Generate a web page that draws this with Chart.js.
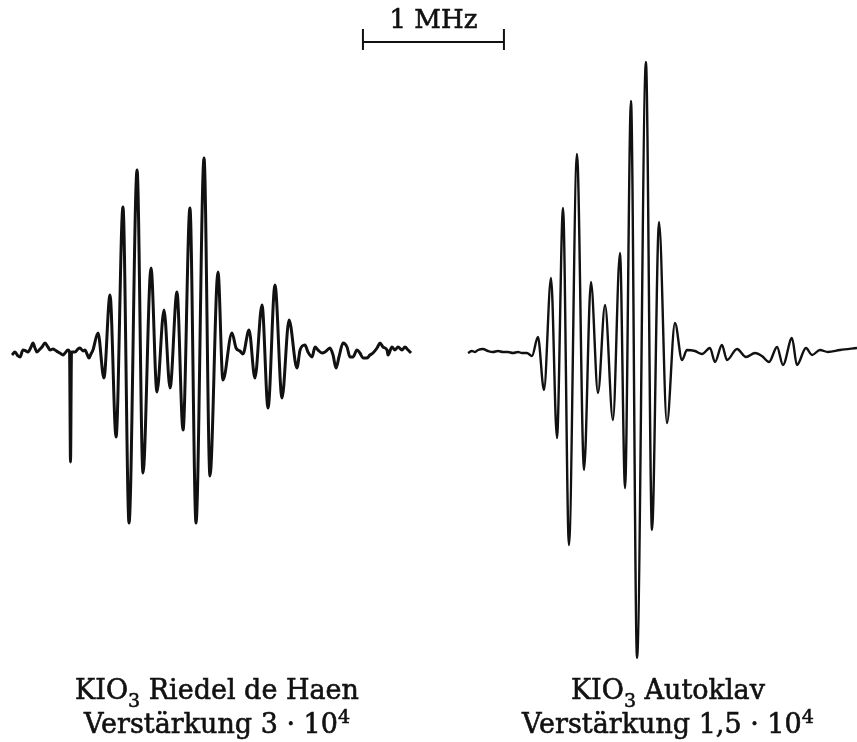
<!DOCTYPE html>
<html>
<head>
<meta charset="utf-8">
<script src="https://cdn.jsdelivr.net/npm/chart.js@4/dist/chart.umd.min.js"></script>
<style>
  html, body { margin: 0; padding: 0; background: #ffffff; }
  #wrap { width: 857px; height: 742px; position: relative; }
</style>
</head>
<body>
<div id="wrap"><canvas id="c" width="857" height="742"></canvas></div>
<script>
// Frequency (MHz, arbitrary origin) and signal amplitude (arbitrary units)
const leftFreq = [0.000,0.021,0.043,0.057,0.078,0.099,0.113,0.135,0.149,0.163,0.177,0.199,0.213,0.234,0.255,0.270,0.291,0.305,0.326,0.340,0.362,0.376,0.397,0.408,0.415,0.422,0.447,0.468,0.482,0.504,0.518,0.532,0.546,0.560,0.574,0.610,0.652,0.695,0.738,0.787,0.830,0.887,0.929,0.986,1.028,1.078,1.121,1.170,1.213,1.262,1.305,1.362,1.404,1.461,1.496,1.560,1.589,1.617,1.638,1.681,1.723,1.773,1.816,1.865,1.915,1.965,2.021,2.043,2.078,2.099,2.128,2.149,2.170,2.199,2.220,2.255,2.277,2.298,2.319,2.348,2.376,2.397,2.418,2.447,2.468,2.489,2.518,2.539,2.560,2.589,2.610,2.631,2.660,2.667,2.695,2.716,2.738,2.766,2.787,2.809,2.830];
const leftAmp  = [-0.3,0.0,-0.4,-0.5,0.2,0.1,0.0,0.5,0.9,0.4,0.0,0.3,0.5,0.9,0.5,0.2,0.3,0.2,0.0,-0.1,-0.3,-0.1,0.2,0.0,-11.0,0.0,0.0,0.3,0.4,0.1,0.2,-0.2,-0.6,-0.2,0.2,1.9,-2.6,5.7,-8.5,14.5,-17.1,18.2,-12.1,8.4,-4.0,4.2,-3.6,6.0,-7.8,14.4,-17.1,19.4,-12.4,8.0,-2.8,1.9,0.4,0.1,-0.2,2.2,-2.6,4.7,-5.6,6.7,-4.6,3.2,-1.6,0.2,0.7,0.0,-0.5,0.5,0.2,-0.1,0.0,0.4,-0.3,-1.6,-0.5,0.9,0.5,-0.5,-0.5,0.2,-0.1,-0.6,-0.6,-0.3,-0.1,0.4,0.9,0.5,0.2,-0.3,0.5,0.2,0.5,0.2,0.5,0.2,-0.1];

const rightFreq = [3.234,3.262,3.284,3.305,3.340,3.376,3.411,3.447,3.482,3.518,3.553,3.589,3.617,3.652,3.688,3.730,3.773,3.823,3.865,3.908,3.950,4.007,4.057,4.106,4.156,4.206,4.262,4.312,4.348,4.390,4.433,4.496,4.539,4.589,4.645,4.702,4.752,4.787,4.844,4.894,4.950,4.986,5.035,5.071,5.142,5.206,5.270,5.319,5.369,5.426,5.468,5.532,5.567,5.631,5.674,5.730,5.787,5.872,5.993];
const rightAmp  = [-0.1,0.1,0.0,0.2,0.3,0.1,0.0,0.1,0.0,0.0,-0.1,0.0,-0.1,-0.1,-0.4,1.5,-3.8,7.4,-8.6,14.4,-19.3,19.8,-11.8,7.0,-4.1,4.7,-6.8,9.9,-13.6,25.1,-30.6,29.0,-17.8,13.0,-7.1,2.9,-0.8,0.2,0.1,-0.2,0.4,-1.0,0.7,-0.8,0.3,-0.5,-0.1,-0.4,-1.0,0.5,-1.3,1.4,-1.3,0.4,-0.3,0.2,0.0,0.2,0.4];

const seriesNames = ["KIO3 Riedel de Haen", "KIO3 Autoklav"];
const scaleBarMHz = 1;
const scaleBarLabel = "1 MHz";
const gainLabels = ["Verstärkung 3 · 10", "Verstärkung 1,5 · 10"];
const gainExponent = "4";

const toPts = (xs, ys) => xs.map((x, i) => ({ x: x, y: ys[i] }));

// Rich text: segments {t, mode: 'n'|'sub'|'sup'}
function drawRich(ctx, segs, cx, baseY, size, family) {
  const fontFor = m => (m === 'n' ? size : Math.round(size * 0.7)) + 'px ' + family;
  let total = 0;
  segs.forEach(s => { ctx.font = fontFor(s.mode); s.w = ctx.measureText(s.t).width; total += s.w; });
  let x = cx - total / 2;
  ctx.textAlign = 'left';
  ctx.textBaseline = 'alphabetic';
  ctx.lineWidth = 0.6;
  segs.forEach(s => {
    ctx.font = fontFor(s.mode);
    let dy = 0;
    if (s.mode === 'sub') dy = size * 0.28;
    if (s.mode === 'sup') dy = -size * 0.36;
    ctx.fillText(s.t, x, baseY + dy);
    ctx.strokeText(s.t, x, baseY + dy);
    x += s.w;
  });
}

const annotations = {
  id: 'annotations',
  afterDraw(chart) {
    const ctx = chart.ctx;
    const xs = chart.scales.x, ys = chart.scales.y;
    const fam = '"DejaVu Serif", "Liberation Serif", serif';
    ctx.save();
    ctx.fillStyle = '#111';
    ctx.strokeStyle = '#111';
    // Scale bar
    const x0 = xs.getPixelForValue(2.489), x1 = xs.getPixelForValue(2.489 + scaleBarMHz);
    const yb = ys.getPixelForValue(31.0);
    const yt = ys.getPixelForValue(32.3), ybt = ys.getPixelForValue(30.2);
    ctx.lineWidth = 2;
    ctx.beginPath();
    ctx.moveTo(x0, yb); ctx.lineTo(x1, yb);
    ctx.moveTo(x0, yt); ctx.lineTo(x0, ybt);
    ctx.moveTo(x1, yt); ctx.lineTo(x1, ybt);
    ctx.stroke();
    drawRich(ctx, [{t: scaleBarLabel, mode: 'n'}], (x0 + x1) / 2, ys.getPixelForValue(32.4), 26, fam);
    // Labels
    const centers = [1.454, 4.652];
    const l1 = ys.getPixelForValue(-34.7), l2 = ys.getPixelForValue(-38.1);
    seriesNames.forEach((name, i) => {
      const rest = name.slice(4);
      drawRich(ctx, [{t: 'KIO', mode: 'n'}, {t: '3', mode: 'sub'}, {t: rest, mode: 'n'}], xs.getPixelForValue(centers[i]), l1, 27, fam);
      drawRich(ctx, [{t: gainLabels[i], mode: 'n'}, {t: gainExponent, mode: 'sup'}], xs.getPixelForValue(centers[i]), l2, 27, fam);
    });
    ctx.restore();
  }
};

new Chart(document.getElementById('c'), {
  type: 'line',
  data: {
    datasets: [
      { label: seriesNames[0], data: toPts(leftFreq, leftAmp), borderColor: '#111', borderWidth: 3, pointRadius: 0, fill: false, cubicInterpolationMode: 'monotone' },
      { label: seriesNames[1], data: toPts(rightFreq, rightAmp), borderColor: '#111', borderWidth: 2.4, pointRadius: 0, fill: false, cubicInterpolationMode: 'monotone' }
    ]
  },
  options: {
    responsive: false,
    devicePixelRatio: 1,
    animation: false,
    events: [],
    layout: { padding: 0 },
    plugins: { legend: { display: false }, tooltip: { enabled: false }, title: { display: false } },
    scales: {
      x: { type: 'linear', min: -0.0851, max: 5.993, display: false },
      y: { type: 'linear', min: -39, max: 35.2, display: false }
    }
  },
  plugins: [annotations]
});
</script>
</body>
</html>
